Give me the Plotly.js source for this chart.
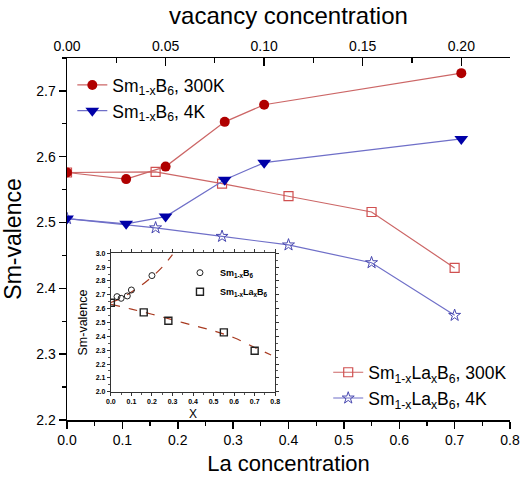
<!DOCTYPE html>
<html>
<head>
<meta charset="utf-8">
<script src="https://cdn.plot.ly/plotly-3.0.1.min.js"></script>
<style>html,body{margin:0;padding:0;background:#fff;}#chart{width:522px;height:477px;}</style>
</head>
<body>
<div id="chart"></div>
<script>
// Main chart data
const vacancy = [0, 0.03, 0.05, 0.08, 0.10, 0.20];
const smB6_300K = [2.576, 2.566, 2.585, 2.653, 2.679, 2.727];
const smB6_4K = [2.506, 2.498, 2.509, 2.565, 2.591, 2.627];
const laConc = [0, 0.16, 0.28, 0.40, 0.55, 0.70];
const smLaB6_300K = [2.576, 2.577, 2.559, 2.540, 2.516, 2.431];
const smLaB6_4K = [2.506, 2.492, 2.479, 2.466, 2.439, 2.359];

// Inset data
const insetX_B6 = [0.03, 0.05, 0.08, 0.10, 0.20];
const insetV_B6 = [2.687, 2.675, 2.692, 2.735, 2.839];
const insetX_LaB6 = [0, 0.16, 0.28, 0.55, 0.70];
const insetV_LaB6 = [2.643, 2.573, 2.513, 2.429, 2.296];
const fitX_B6 = [0, 0.05, 0.10, 0.15, 0.20, 0.25, 0.30];
const fitV_B6 = [2.645, 2.675, 2.72, 2.77, 2.83, 2.90, 2.99];
const fitX_LaB6 = [0, 0.1, 0.2, 0.3, 0.4, 0.5, 0.6, 0.7, 0.78];
const fitV_LaB6 = [2.632, 2.597, 2.56, 2.52, 2.48, 2.44, 2.39, 2.32, 2.265];

const names = {
  b300: 'Sm<sub>1-x</sub>B<sub>6</sub>, 300K',
  b4: 'Sm<sub>1-x</sub>B<sub>6</sub>, 4K',
  la300: 'Sm<sub>1-x</sub>La<sub>x</sub>B<sub>6</sub>, 300K',
  la4: 'Sm<sub>1-x</sub>La<sub>x</sub>B<sub>6</sub>, 4K',
  iB6: '<b>Sm<sub>1-x</sub>B<sub>6</sub></b>',
  iLa: '<b>Sm<sub>1-x</sub>La<sub>x</sub>B<sub>6</sub></b>'
};

const FONT = 'Liberation Sans, Arial, sans-serif';
const red = '#b00000', redLine = '#cc6666';
const blue = '#0000a8', blueLine = '#6f6fc8';

const traces = [
  {x: laConc, y: smLaB6_300K, xaxis: 'x', yaxis: 'y', mode: 'lines+markers', name: names.la300, legend: 'legend2',
   line: {color: redLine, width: 1.2}, marker: {symbol: 'square-open', size: 9, color: '#d05050', line: {width: 1.2}}},
  {x: laConc, y: smLaB6_4K, xaxis: 'x', yaxis: 'y', mode: 'lines+markers', name: names.la4, legend: 'legend2',
   line: {color: blueLine, width: 1.2}, marker: {symbol: 'star-open', size: 9, color: '#4848b0', line: {width: 1}}},
  {x: vacancy, y: smB6_300K, xaxis: 'x2', yaxis: 'y', mode: 'lines+markers', name: names.b300, legend: 'legend',
   line: {color: redLine, width: 1.2}, marker: {symbol: 'circle', size: 10, color: red}},
  {x: vacancy, y: smB6_4K, xaxis: 'x2', yaxis: 'y', mode: 'lines+markers', name: names.b4, legend: 'legend',
   line: {color: blueLine, width: 1.2}, marker: {symbol: 'triangle-down', size: 12, color: blue}},
  // inset
  {x: fitX_B6, y: fitV_B6, xaxis: 'x3', yaxis: 'y3', mode: 'lines', showlegend: false,
   line: {color: '#a83a20', width: 1.2, dash: 'dash', shape: 'spline'}},
  {x: fitX_LaB6, y: fitV_LaB6, xaxis: 'x3', yaxis: 'y3', mode: 'lines', showlegend: false,
   line: {color: '#a83a20', width: 1.2, dash: 'dash', shape: 'spline'}},
  {x: insetX_B6, y: insetV_B6, xaxis: 'x3', yaxis: 'y3', mode: 'markers', name: names.iB6, legend: 'legend3',
   marker: {symbol: 'circle-open', size: 6, color: '#222', line: {width: 1}}},
  {x: insetX_LaB6, y: insetV_LaB6, xaxis: 'x3', yaxis: 'y3', mode: 'markers', name: names.iLa, legend: 'legend3',
   marker: {symbol: 'square-open', size: 7, color: '#222', line: {width: 1.4}}}
];

const axisCommon = {showgrid: false, zeroline: false, showline: true, linecolor: '#000', linewidth: 1.5,
  tickcolor: '#000', tickfont: {family: FONT, size: 14, color: '#000'}};

const layout = {
  width: 522, height: 477,
  margin: {l: 67, r: 10, t: 58, b: 57},
  paper_bgcolor: '#fff', plot_bgcolor: '#fff',
  font: {family: FONT, color: '#000'},
  xaxis: Object.assign({}, axisCommon, {
    range: [0, 0.8], tickvals: [0, 0.1, 0.2, 0.3, 0.4, 0.5, 0.6, 0.7, 0.8], ticktext: ['0.0','0.1','0.2','0.3','0.4','0.5','0.6','0.7','0.8'],
    ticks: 'outside', ticklen: 7, tickwidth: 1.5,
    minor: {dtick: 0.05, tick0: 0, ticks: 'outside', ticklen: 4, tickcolor: '#000', tickwidth: 1.2},
    title: {text: 'La concentration', font: {family: FONT, size: 22, color: '#000'}, standoff: 8},
    anchor: 'y'
  }),
  xaxis2: Object.assign({}, axisCommon, {
    overlaying: 'x', side: 'top', anchor: 'y',
    range: [0, 0.2247], tickvals: [0, 0.05, 0.10, 0.15, 0.20], ticktext: ['0.00','0.05','0.10','0.15','0.20'],
    ticks: 'inside', ticklen: 8, tickwidth: 1.5,
    minor: {dtick: 0.025, tick0: 0, ticks: 'inside', ticklen: 5, tickcolor: '#000', tickwidth: 1.2},
    title: {text: 'vacancy concentration', font: {family: FONT, size: 24, color: '#000'}, standoff: 6}
  }),
  yaxis: Object.assign({}, axisCommon, {
    range: [2.2, 2.75], tickvals: [2.2, 2.3, 2.4, 2.5, 2.6, 2.7], ticktext: ['2.2','2.3','2.4','2.5','2.6','2.7'],
    ticks: 'outside', ticklen: 7, tickwidth: 1.5,
    minor: {dtick: 0.05, tick0: 2.2, ticks: 'outside', ticklen: 4, tickcolor: '#000', tickwidth: 1.2},
    title: {text: 'Sm-valence', font: {family: FONT, size: 23, color: '#000'}, standoff: 8},
    anchor: 'x'
  }),
  yaxis2: Object.assign({}, axisCommon, {
    overlaying: 'y', side: 'right', anchor: 'x',
    range: [2.2, 2.75], tickvals: [2.2, 2.3, 2.4, 2.5, 2.6, 2.7], showticklabels: false,
    ticks: 'inside', ticklen: 7, tickwidth: 1.5,
    minor: {dtick: 0.05, tick0: 2.2, ticks: 'inside', ticklen: 4, tickcolor: '#000', tickwidth: 1.2}
  }),
  xaxis3: {
    domain: [0.099, 0.47], anchor: 'y3', range: [0, 0.8], dtick: 0.1, tickformat: '.1f',
    showgrid: false, zeroline: false, showline: true, linecolor: '#333', linewidth: 1, mirror: 'ticks',
    ticks: 'outside', ticklen: 3, tickcolor: '#333', tickfont: {family: FONT, size: 7, color: '#000', weight: 'bold'},
    minor: {dtick: 0.05, ticks: 'outside', ticklen: 2, tickcolor: '#555'},
    title: {text: 'X', font: {family: FONT, size: 12, color: '#000'}, standoff: 5}
  },
  yaxis3: {
    domain: [0.078, 0.4605], anchor: 'x3', range: [2.0, 3.0], dtick: 0.1, tickformat: '.1f',
    showgrid: false, zeroline: false, showline: true, linecolor: '#333', linewidth: 1, mirror: 'ticks',
    ticks: 'outside', ticklen: 3, tickcolor: '#333', tickfont: {family: FONT, size: 7, color: '#000', weight: 'bold'},
    minor: {dtick: 0.05, ticks: 'outside', ticklen: 2, tickcolor: '#555'},
    title: {text: 'Sm-valence', font: {family: FONT, size: 12.5, color: '#000'}, standoff: 5}
  },
  legend: {x: 0.012, y: 0.975, xanchor: 'left', yanchor: 'top', bgcolor: 'rgba(0,0,0,0)',
    font: {family: FONT, size: 17.5, color: '#000'}, tracegroupgap: 0},
  legend2: {x: 1.005, y: 0.01, xanchor: 'right', yanchor: 'bottom', bgcolor: 'rgba(0,0,0,0)',
    font: {family: FONT, size: 17.5, color: '#000'}, tracegroupgap: 0},
  legend3: {x: 0.255, y: 0.447, xanchor: 'left', yanchor: 'top', bgcolor: 'rgba(0,0,0,0)',
    font: {family: FONT, size: 9, color: '#000'}, tracegroupgap: 0, itemwidth: 10},
  showlegend: true
};

Plotly.newPlot('chart', traces, layout, {displayModeBar: false, staticPlot: true});
</script>
</body>
</html>
